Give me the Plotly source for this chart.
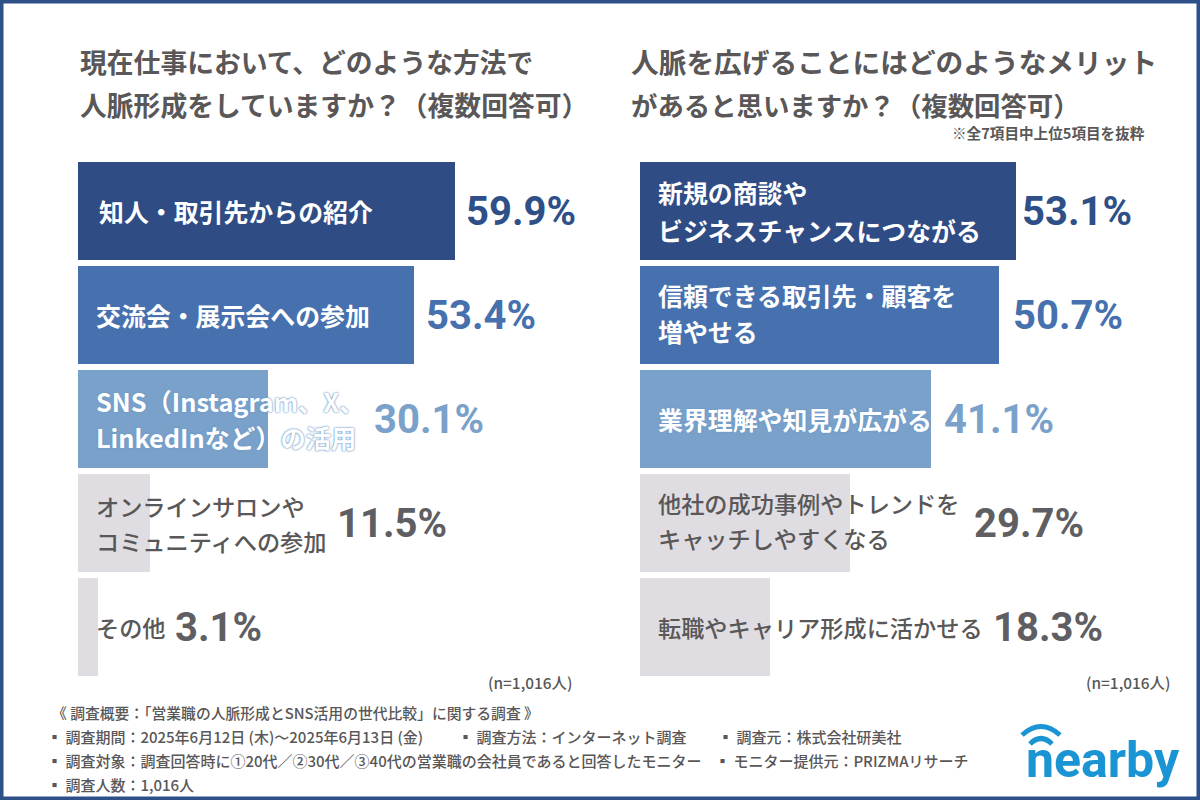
import plotly.graph_objects as go

# ---- data ----
left_title = ["現在仕事において、どのような方法で", "人脈形成をしていますか？（複数回答可）"]
right_title = ["人脈を広げることにはどのようなメリット", "があると思いますか？（複数回答可）"]

left_labels = [["知人・取引先からの紹介"], ["交流会・展示会への参加"],
               ["SNS（Instagram、X、", "LinkedInなど）の活用"],
               ["オンラインサロンや", "コミュニティへの参加"], ["その他"]]
left_values = [59.9, 53.4, 30.1, 11.5, 3.1]

right_labels = [["新規の商談や", "ビジネスチャンスにつながる"], ["信頼できる取引先・顧客を", "増やせる"],
                ["業界理解や知見が広がる"], ["他社の成功事例やトレンドを", "キャッチしやすくなる"],
                ["転職やキャリア形成に活かせる"]]
right_values = [53.1, 50.7, 41.1, 29.7, 18.3]

note_top = "※全7項目中上位5項目を抜粋"
note_n = "(n=1,016人)"
footer_lines = [
    (52, 712, "《 調査概要：「営業職の人脈形成とSNS活用の世代比較」に関する調査 》"),
    (47, 736, "▪ 調査期間：2025年6月12日 (木)～2025年6月13日 (金)"),
    (458, 736, "▪ 調査方法：インターネット調査"),
    (718, 736, "▪ 調査元：株式会社研美社"),
    (47, 760, "▪ 調査対象：調査回答時に①20代／②30代／③40代の営業職の会社員であると回答したモニター"),
    (715, 760, "▪ モニター提供元：PRIZMAリサーチ"),
    (47, 784, "▪ 調査人数：1,016人"),
]

# ---- style ----
W, H = 1200, 800
colors = ["#304c84", "#4671ae", "#7aa1ca", "#dfdde2", "#dfdde2"]
value_colors = ["#2f4f88", "#4671ae", "#7aa1ca", "#5f5f63", "#5f5f63"]
GRAY = "#595757"
JP = "Noto Sans CJK JP"
NUM = "Roboto"
left_gap = [65.6, 66.6, 161, 242, 121]
right_gap = [61.5, 69.5, 68, 179, 278]
left_inset = [19, 15.5, 15.5, 15.5, 15.5]
left_pitch = [36, 36, 36, 35, 35]
right_pitch = [38, 36, 36, 35, 35]
left_lift = [0, 0, 0, 0, 0]
right_lift = [0, 2, 0, 3, 0]
XMAX = 70
TOP, BOTTOM = 159, 679
PX_L, PX_R = 6.3, 7.08
X0_L, X0_R = 78, 640


def cats(labels):
    return ["".join(l) for l in labels]


fig = go.Figure()
for labs, vals, xa, ya in [(left_labels, left_values, "x", "y"),
                           (right_labels, right_values, "x2", "y2")]:
    fig.add_trace(go.Bar(y=cats(labs), x=vals, orientation="h", width=0.942,
                         marker=dict(color=colors, line=dict(width=0)),
                         xaxis=xa, yaxis=ya, showlegend=False, hoverinfo="skip"))

axis = dict(visible=False, fixedrange=True)
fig.update_layout(
    width=W, height=H, margin=dict(l=0, r=0, t=0, b=0),
    paper_bgcolor="white", plot_bgcolor="rgba(0,0,0,0)", bargap=0,
    xaxis=dict(axis, domain=[X0_L / W, (X0_L + PX_L * XMAX) / W], range=[0, XMAX]),
    xaxis2=dict(axis, domain=[X0_R / W, (X0_R + PX_R * XMAX) / W], range=[0, XMAX]),
    yaxis=dict(axis, domain=[1 - BOTTOM / H, 1 - TOP / H], type="category",
               categoryorder="array", categoryarray=cats(left_labels), range=[4.5, -0.5]),
    yaxis2=dict(axis, domain=[1 - BOTTOM / H, 1 - TOP / H], type="category",
                categoryorder="array", categoryarray=cats(right_labels), range=[4.5, -0.5]),
)


def page_text(x, y, text, size, color=GRAY, weight=500, family=JP, anchor="left"):
    fig.add_annotation(xref="paper", yref="paper", x=x / W, y=1 - y / H, text=text,
                       showarrow=False, xanchor=anchor, yanchor="middle",
                       xshift=0, yshift=0, borderpad=0, borderwidth=0,
                       font=dict(family=family, size=size, color=color, weight=weight))


for i, t in enumerate(left_title):
    page_text(80, [61, 105][i], t, 26.8, weight=700)
for i, t in enumerate(right_title):
    page_text(631, [61, 104][i], t, 27.7 if i == 0 else 26.4, weight=700)
page_text(952, 132, note_top, 14.6, weight=700)
page_text(488, 682, note_n, 15.4)
page_text(1086, 682, note_n, 15.4)
for x, y, t in footer_lines:
    page_text(x, y, t, 14.8 if t.startswith("《") else 15)

# inner labels and value labels, anchored on the axes
for labs, vals, gaps, insets, pitches, lifts, xa, ya in [
    (left_labels, left_values, left_gap, left_inset, left_pitch, left_lift, "x", "y"),
    (right_labels, right_values, right_gap, [16] * 5, right_pitch, right_lift, "x2", "y2"),
]:
    names = cats(labs)
    for i, (lines, v) in enumerate(zip(labs, vals)):
        dark = i < 3
        size = 24.9 if dark else 23.2
        if i == 2 and ya == "y":
            size = 25.3
        for k, line in enumerate(lines):
            shift = (len(lines) - 1) / 2 * pitches[i] - k * pitches[i] + lifts[i]
            fig.add_annotation(
                xref=xa, yref=ya, x=0, y=names[i], text=line, showarrow=False,
                xanchor="left", yanchor="middle", xshift=insets[i], yshift=shift,
                font=dict(family=JP, size=size, weight=700 if dark else 500,
                          color="white" if dark else GRAY,
                          shadow="0 0 2px #6f9ac8, 0 0 2px #6f9ac8" if i == 2 else "none"))
        fig.add_annotation(
            xref=xa, yref=ya, x=v, y=names[i], text=f"{v}%", showarrow=False,
            xanchor="center", yanchor="middle", xshift=gaps[i], yshift=0,
            font=dict(family=NUM, size=40, weight=700, color=value_colors[i]))

# logo
page_text(1026, 760, "nearby", 50, color="#1b94d3", weight=700, family=NUM)

shapes = [
    dict(type="rect", xref="paper", yref="paper", x0=0, x1=1, y0=0, y1=1,
         line=dict(color="#2d5089", width=7), fillcolor="rgba(0,0,0,0)", layer="above"),
]
for d in ["M 1022 735 Q 1041 718 1060 735", "M 1030 744 Q 1041 733 1052 744"]:
    shapes.append(dict(type="path", xref="paper", yref="paper", path=d,
                       line=dict(color="#1b94d3", width=5)))
# paths on paper refs use fractions, so convert pixel paths to fractions
for s in shapes[1:]:
    toks = s["path"].split()
    out, isx = [], True
    for t in toks:
        if t.isalpha():
            out.append(t)
            isx = True
        else:
            out.append(f"{float(t) / W:.5f}" if isx else f"{1 - float(t) / H:.5f}")
            isx = not isx
    s["path"] = " ".join(out)
fig.update_layout(shapes=shapes)

fig.write_html("out.html", config=dict(displayModeBar=False),
               post_script="document.body.style.margin='0';document.documentElement.style.overflow='hidden';")
